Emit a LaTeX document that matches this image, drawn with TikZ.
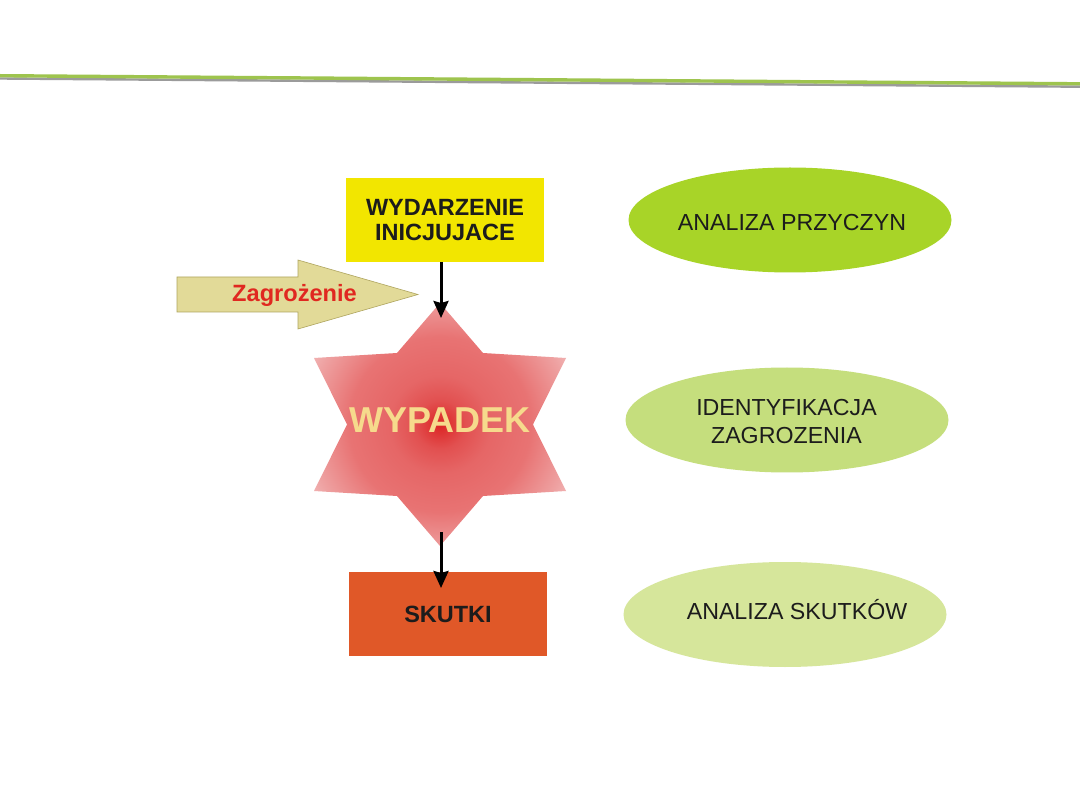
\documentclass[tikz,border=0pt]{standalone}
\usepackage{fontspec}
\setmainfont{Liberation Sans}
\usetikzlibrary{arrows.meta,shapes.geometric}
\definecolor{topgreen}{RGB}{158,196,78}
\definecolor{topgrey}{RGB}{155,155,155}
\definecolor{boxyellow}{RGB}{242,230,0}
\definecolor{boxorange}{RGB}{224,88,40}
\definecolor{ellA}{RGB}{168,212,40}
\definecolor{ellB}{RGB}{197,222,125}
\definecolor{ellC}{RGB}{214,230,155}
\definecolor{arrfill}{RGB}{226,218,152}
\definecolor{arrdraw}{RGB}{175,165,95}
\definecolor{zagred}{RGB}{224,40,32}
\definecolor{wyptext}{RGB}{246,218,140}
\definecolor{txt}{RGB}{28,28,28}
\pgfdeclareradialshading{starshading}{\pgfpoint{0bp}{0bp}}{%
  rgb(0bp)=(0.863,0.141,0.141);
  rgb(5bp)=(0.886,0.314,0.314);
  rgb(10bp)=(0.900,0.400,0.400);
  rgb(18bp)=(0.910,0.451,0.451);
  rgb(26bp)=(0.933,0.627,0.627);
  rgb(31bp)=(0.953,0.753,0.753);
  rgb(50bp)=(0.953,0.753,0.753)}
\begin{document}
\begin{tikzpicture}[x=1pt,y=-1pt,
  boxstyle/.style={draw=none,minimum width=198pt,minimum height=84pt,inner sep=0pt,align=center,
    text=txt,font=\fontsize{23.5}{25}\selectfont\bfseries},
  ellstyle/.style={ellipse,draw=none,minimum width=323pt,minimum height=105pt,inner sep=0pt},
  elltext/.style={text=txt,font=\fontsize{23.2}{28}\selectfont,align=center,inner sep=0pt},
  flowarrow/.style={line width=3pt,black,-{Stealth[length=17pt,width=15pt,inset=2pt]}}
]
\useasboundingbox[fill=white] (0,0) rectangle (1080,810);

% header line
\draw[topgrey,line width=2.4pt] (0,78.5) -- (1080,86.7);
\draw[topgreen,line width=3.4pt] (0,75.7) -- (1080,83.8);

% boxes
\node[boxstyle,fill=boxyellow] (wyd) at (445,220) {WYDARZENIE\\INICJUJACE};
\node[boxstyle,fill=boxorange] (skutki) at (448,614) {SKUTKI};

% star
\shade[shading=starshading]
  (440,303) -- (483,353) -- (566,358) -- (533,424.5) -- (566,491) -- (483,496)
  -- (440,546) -- (397,496) -- (314,491) -- (347,424.5) -- (314,358) -- (397,353) -- cycle;
\node[text=wyptext,font=\fontsize{36}{40}\selectfont\bfseries,anchor=base,inner sep=0pt]
  (wypadek) at (440,433) {WYPADEK};

% hazard arrow
\filldraw[fill=arrfill,draw=arrdraw,line width=0.6pt]
  (177,277) -- (298,277) -- (298,260) -- (418,294.5) -- (298,329) -- (298,312) -- (177,312) -- cycle;
\node[text=zagred,font=\fontsize{23.6}{26}\selectfont\bfseries,anchor=base,inner sep=0pt]
  (zag) at (294.5,302) {Zagrożenie};

% flow arrows
\coordinate (tipA) at (441,318);
\coordinate (startB) at (441,532);
\coordinate (tipB) at (441,588);
\draw[flowarrow] (wyd.south -| tipA) -- (tipA);
\draw[flowarrow] (startB) -- (tipB);

% ellipses
\node[ellstyle,fill=ellA] (e1) at (790,220) {};
\node[ellstyle,fill=ellB] (e2) at (787,420) {};
\node[ellstyle,fill=ellC] (e3) at (785,614.5) {};
\node[elltext,anchor=base] (t1) at (792,231) {ANALIZA PRZYCZYN};
\node[elltext,anchor=base] (t2a) at (786.5,416) {IDENTYFIKACJA};
\node[elltext,anchor=base] (t2b) at (786.5,444) {ZAGROZENIA};
\node[elltext,anchor=base] (t3) at (797,619) {ANALIZA SKUTKÓW};
\end{tikzpicture}
\end{document}
